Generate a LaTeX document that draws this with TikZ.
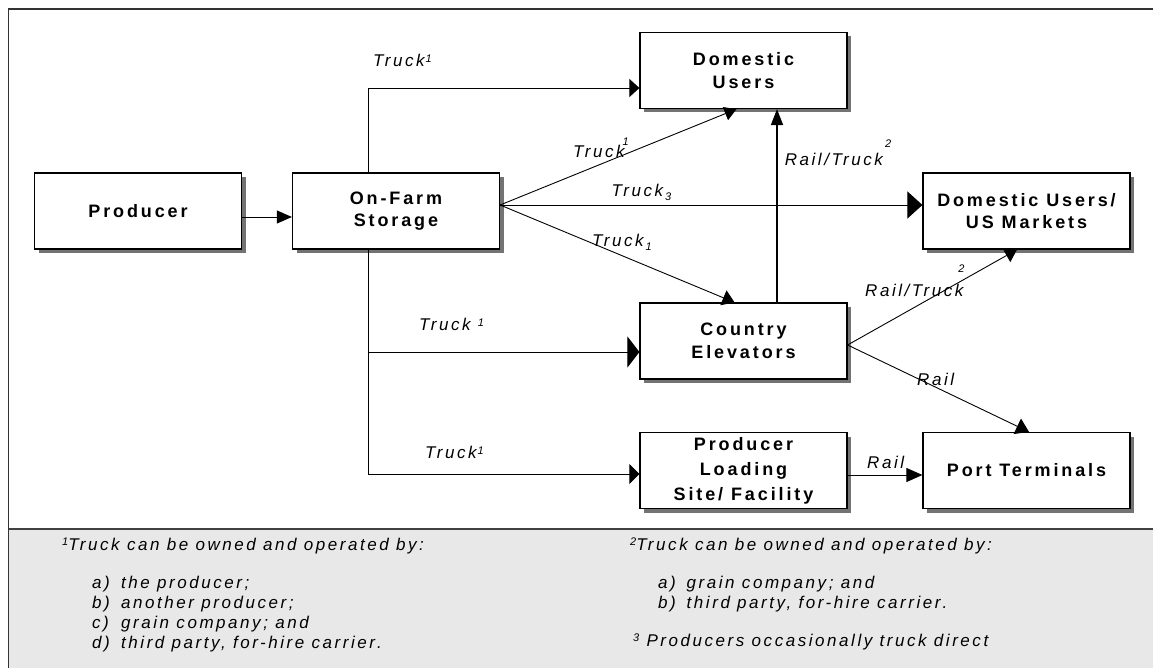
\documentclass[tikz,border=0pt]{standalone}
\usepackage{fontspec}
\setmainfont{Liberation Sans}
\newfontfamily\bxfont[LetterSpace=16]{Liberation Sans}
\newfontfamily\lbfont[LetterSpace=15]{Liberation Sans}
\usetikzlibrary{arrows.meta,shadows}
\newcommand{\supr}[3]{\kern#1\raisebox{#2}{\fontsize{11}{11}\selectfont #3}}
\begin{document}
\begin{tikzpicture}[x=1pt,y=-1pt,
  box/.style={draw=black, line width=1.2pt, fill=white, minimum width=207pt, minimum height=76pt,
    inner sep=0pt, align=center, font=\bxfont\bfseries\fontsize{18}{22.5}\selectfont,
    drop shadow={shadow xshift=4pt, shadow yshift=-4pt, fill=black!55, opacity=1}},
  conn/.style={line width=0.9pt, black},
  ar/.style 2 args={-{Triangle[length=#1,width=#2]}},
  lab/.style={font=\lbfont\itshape\fontsize{17}{19}\selectfont, inner sep=0pt, anchor=base west},
]
\useasboundingbox (0,0) rectangle (1153,668);
% background band and frame
\fill[black!9] (8.5,529) rectangle (1153,668);
\draw[line width=1.8pt, black!75] (8.5,529) -- (1153,529);
\draw[line width=1.8pt, black!80] (8.5,668) -- (8.5,9) -- (1153,9);

% boxes
\node[box] (prod) at (138,211) {Producer};
\node[box] (farm) at (396,211) {On-Farm\\Storage};
\node[box] (dom)  at (743.5,70.5) {Domestic\\Users};
\node[box] (domus) at (1026.5,211) {Domestic Users/\\US Markets};
\node[box] (ce)   at (743.5,341) {Country\\Elevators};
\node[box, font=\bxfont\bfseries\fontsize{18}{25}\selectfont] (pl) at (743.5,470.5) {Producer\\Loading\\Site/ Facility};
\node[box] (pt)   at (1026.5,470.5) {Port Terminals};

% connectors
\draw[conn, ar={15pt}{13pt}] ([yshift=-6pt]prod.east) -- ([yshift=-6pt]farm.west);
\draw[conn, ar={10pt}{18pt}] ([xshift=-28pt]farm.north) |- ([yshift=-17.5pt]dom.west);
\draw[conn, ar={12pt}{14pt}] ([yshift=6pt]farm.east) -- ([xshift=-7pt]dom.south);
\draw[conn, ar={15pt}{27pt}] ([yshift=6pt]farm.east) -- ([yshift=6pt]domus.west);
\draw[conn, ar={12pt}{16pt}] ([yshift=6pt]farm.east) -- ([xshift=-9pt]ce.north);
\draw[conn, ar={12pt}{31pt}] ([xshift=-28pt]farm.south) |- ([yshift=-11pt]ce.west);
\draw[conn, ar={10pt}{20pt}] ([xshift=-28pt]farm.south) |- ([yshift=-3.5pt]pl.west);
\draw[line width=1.6pt, ar={16pt}{12pt}] ([xshift=33.5pt]ce.north) -- ([xshift=33.5pt]dom.south);
\draw[conn, ar={12pt}{15pt}] ([yshift=-4pt]ce.east) -- ([xshift=-9.5pt]domus.south);
\draw[conn, ar={13pt}{17pt}] ([yshift=-4pt]ce.east) -- ([xshift=2.5pt]pt.north);
\draw[conn, ar={16pt}{14pt}] ([yshift=-4.5pt]pl.east) -- ([yshift=-4.5pt]pt.west);

% connector labels
\node[lab] (t1) at (373,67) {Truck\supr{1pt}{4pt}{1}};
\node[lab] (t2) at (573,158) {Truck\supr{-2pt}{12.5pt}{1}};
\node[lab] (t3) at (784.6,166) {Rail/Truck\supr{2pt}{18pt}{2}};
\node[lab] (t4) at (611.5,197) {Truck\supr{2pt}{-4pt}{3}};
\node[lab] (t5) at (592,247) {Truck\supr{2pt}{-4pt}{1}};
\node[lab] (t6) at (865,296) {Rail/Truck\supr{-5pt}{24pt}{2}};
\node[lab] (t7) at (419,330) {Truck \supr{0pt}{4pt}{1}};
\node[lab] (t8) at (425,458) {Truck\supr{1pt}{4pt}{1}};
\node[lab] (t9) at (917,385) {Rail};
\node[lab] (t10) at (867,468) {Rail};

% footnotes
\node[lab] (n1)  at (62,550) {\supr{0pt}{4.5pt}{1}Truck can be owned and operated by:};
\node[lab] (n1a) at (92,588) {\makebox[29pt][l]{a)}the producer;};
\node[lab] (n1b) at (92,608) {\makebox[29pt][l]{b)}another producer;};
\node[lab] (n1c) at (92,628) {\makebox[29pt][l]{c)}grain company; and};
\node[lab] (n1d) at (92,648) {\makebox[29pt][l]{d)}third party, for-hire carrier.};
\node[lab] (n2)  at (630,550) {\supr{0pt}{4.5pt}{2}Truck can be owned and operated by:};
\node[lab] (n2a) at (658,588) {\makebox[28.5pt][l]{a)}grain company; and};
\node[lab] (n2b) at (658,608) {\makebox[28.5pt][l]{b)}third party, for-hire carrier.};
\node[lab] (n3)  at (633,646) {\supr{0pt}{4.5pt}{3} Producers occasionally truck direct};
\end{tikzpicture}
\end{document}
